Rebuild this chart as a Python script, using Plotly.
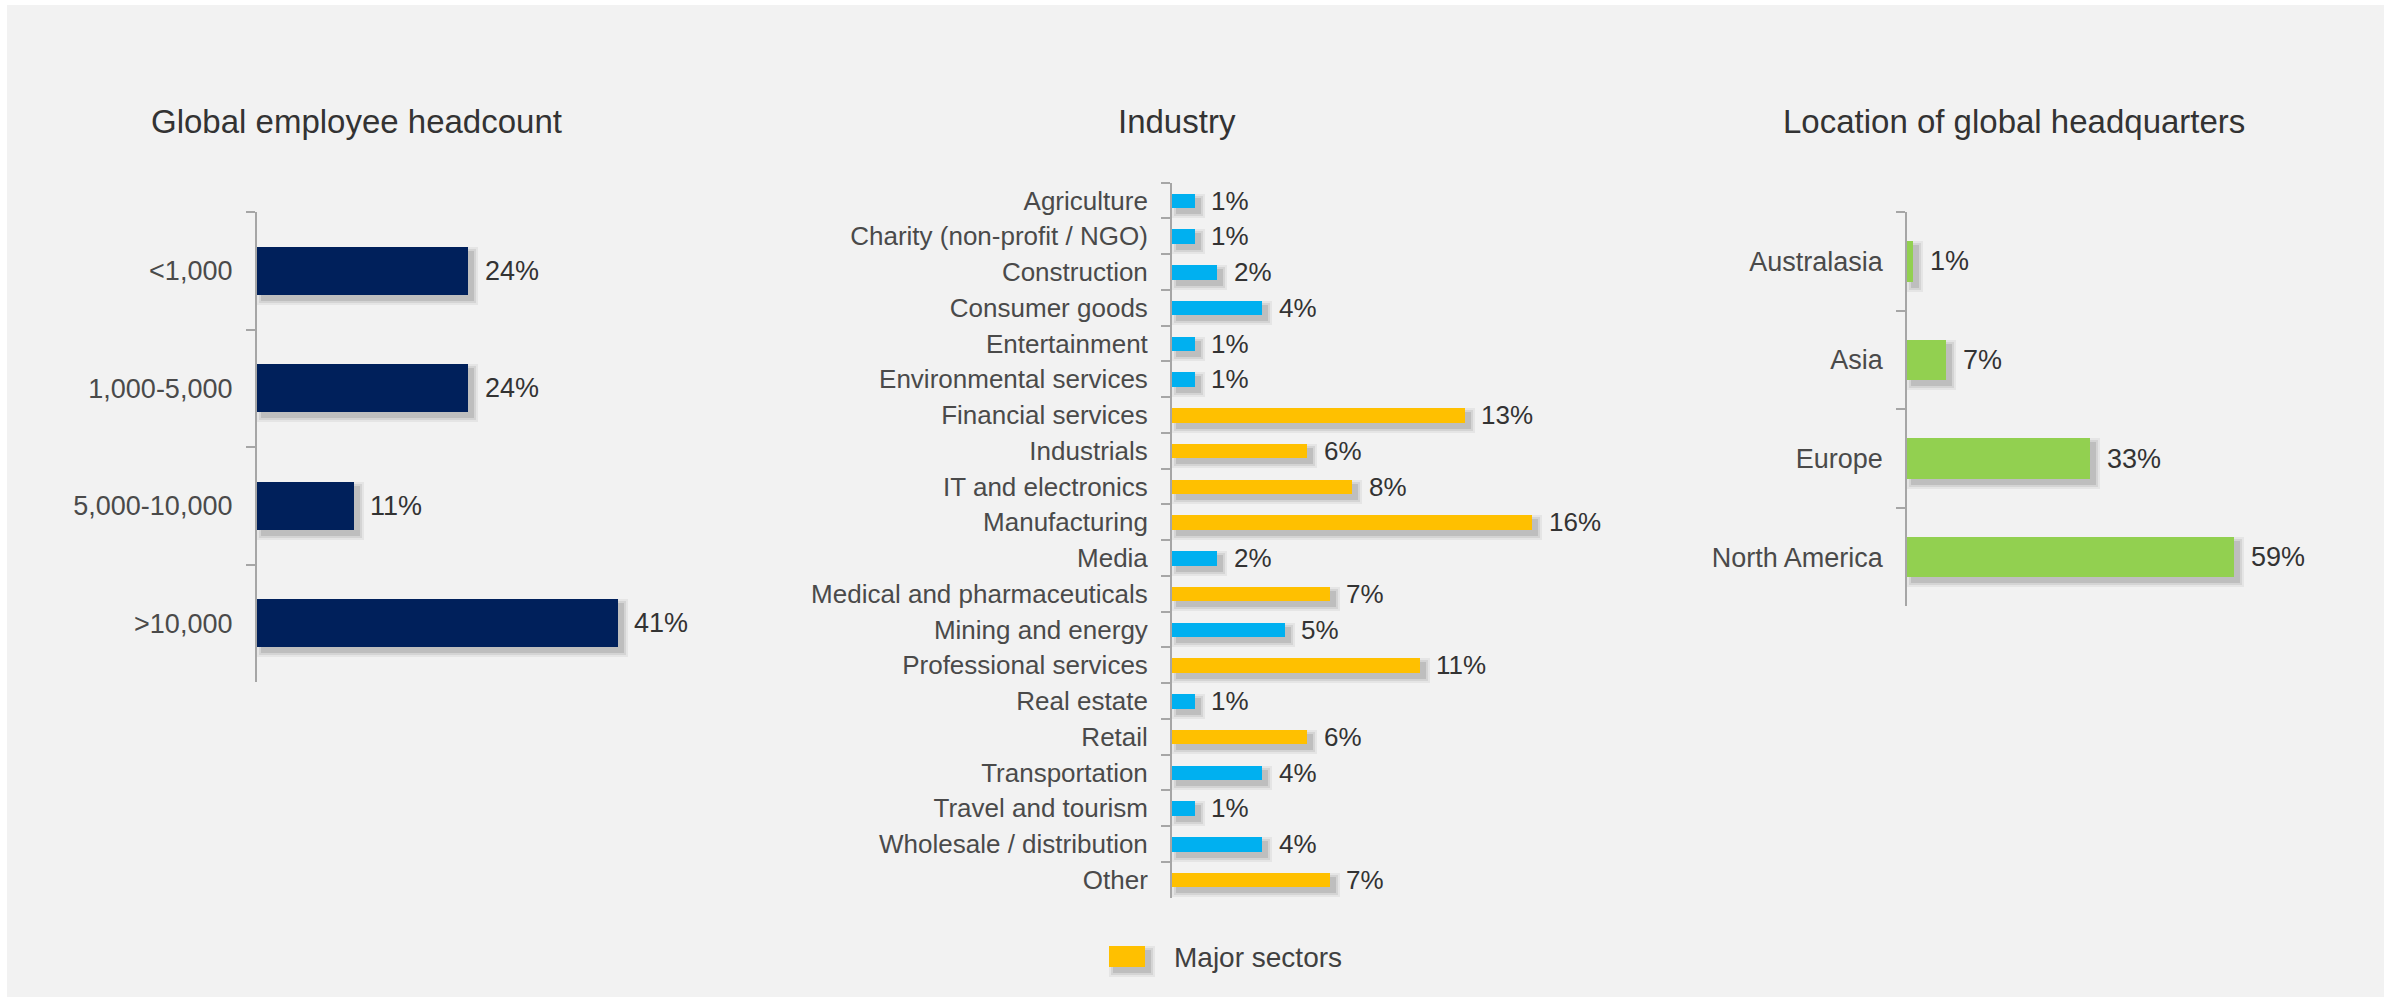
import plotly.graph_objects as go

# ---- data -------------------------------------------------------------
headcount_labels = ["<1,000", "1,000-5,000", "5,000-10,000", ">10,000"]
headcount_values = [24, 24, 11, 41]

industry_labels = [
    "Agriculture", "Charity (non-profit / NGO)", "Construction", "Consumer goods",
    "Entertainment", "Environmental services", "Financial services", "Industrials",
    "IT and electronics", "Manufacturing", "Media", "Medical and pharmaceuticals",
    "Mining and energy", "Professional services", "Real estate", "Retail",
    "Transportation", "Travel and tourism", "Wholesale / distribution", "Other",
]
industry_values = [1, 1, 2, 4, 1, 1, 13, 6, 8, 16, 2, 7, 5, 11, 1, 6, 4, 1, 4, 7]
industry_major = [False, False, False, False, False, False, True, True, True, True,
                  False, True, False, True, False, True, False, False, False, True]

hq_labels = ["Australasia", "Asia", "Europe", "North America"]
hq_values = [1, 7, 33, 59]

# ---- styling ------------------------------------------------------------
W, H = 2395, 999
NAVY = "#00205b"
BLUE = "#00b0f0"
GOLD = "#ffc000"
GREEN = "#92d050"
BG = "#f2f2f2"
AXIS = "#a6a6a6"
FONT = "Liberation Sans, Arial, Helvetica, sans-serif"
TITLE_C = "#333333"
LABEL_C = "#4a4a4a"
VALUE_C = "#333333"


def px_x(p):
    return p / W


def px_y(p):
    return 1 - p / H


fig = go.Figure()

# panel geometry: axis-line x, px per %, x range max, top/bottom of category band
panels = [
    dict(name="1", left=256.6, ppu=8.8, xmax=50, top=212.0, bottom=682.0,
         cats=headcount_labels, vals=headcount_values,
         colors=[NAVY] * len(headcount_values), tick_size=27, val_size=27),
    dict(name="2", left=1171.8, ppu=22.5, xmax=20, top=182.7, bottom=897.7,
         cats=industry_labels, vals=industry_values,
         colors=[GOLD if m else BLUE for m in industry_major], tick_size=26, val_size=26),
    dict(name="3", left=1907.0, ppu=5.55, xmax=70, top=212.0, bottom=606.4,
         cats=hq_labels, vals=hq_values,
         colors=[GREEN] * len(hq_values), tick_size=27, val_size=27),
]

BAR_W = 0.41
annotations = []

for i, p in enumerate(panels):
    xa = "x" if i == 0 else f"x{i + 1}"
    ya = "y" if i == 0 else f"y{i + 1}"
    n = len(p["cats"])
    band = (p["bottom"] - p["top"]) / n

    # soft drop shadow underneath the bars
    for e, op in [(5, 0.05), (3, 0.07), (1, 0.10)]:
        sx, sy = 5, 5
        base = max(0.2, (sx - e)) / p["ppu"]
        xs = [v + (sx + e) / p["ppu"] - base for v in p["vals"]]
        ws = BAR_W + 2 * e / band
        fig.add_trace(go.Bar(
            y=p["cats"], x=xs, base=base, orientation="h",
            width=ws, offset=-ws / 2 + sy / band,
            marker=dict(color=f"rgba(0,0,0,{op})", line=dict(width=0)),
            xaxis=xa, yaxis=ya, hoverinfo="skip", showlegend=False,
        ))

    fig.add_trace(go.Bar(
        y=p["cats"], x=p["vals"], orientation="h", width=BAR_W,
        marker=dict(color=p["colors"], line=dict(width=0)),
        xaxis=xa, yaxis=ya, showlegend=False,
    ))

    for c, v in zip(p["cats"], p["vals"]):
        annotations.append(dict(
            x=v, y=c, xref=xa, yref=ya, text=f"{v}%", showarrow=False,
            xanchor="left", yanchor="middle", xshift=15,
            font=dict(family=FONT, size=p["val_size"], color=VALUE_C),
        ))

    x_dom = [px_x(p["left"]), px_x(p["left"] + p["ppu"] * p["xmax"])]
    y_dom = [px_y(p["bottom"]), px_y(p["top"])]
    xkey = "xaxis" if i == 0 else f"xaxis{i + 1}"
    ykey = "yaxis" if i == 0 else f"yaxis{i + 1}"
    fig.update_layout(**{
        xkey: dict(domain=x_dom, range=[0, p["xmax"]], visible=False,
                   anchor=ya, fixedrange=True),
        ykey: dict(domain=y_dom, anchor=xa, type="category",
                   categoryorder="array", categoryarray=p["cats"],
                   range=[n - 0.5, -0.5], showline=True, linecolor=AXIS,
                   linewidth=1.5, ticks="outside", tickson="boundaries",
                   ticklen=9, tickwidth=1.5, tickcolor=AXIS,
                   showgrid=False, zeroline=False, ticklabelstandoff=17,
                   tickfont=dict(family=FONT, size=p["tick_size"], color=LABEL_C),
                   fixedrange=True),
    })

# panel titles
for text, cx in [("Global employee headcount", 356.6), ("Industry", 1177.0),
                 ("Location of global headquarters", 2013.5)]:
    annotations.append(dict(
        x=px_x(cx), y=px_y(121), xref="paper", yref="paper", text=text,
        showarrow=False, xanchor="center", yanchor="middle",
        font=dict(family=FONT, size=33, color=TITLE_C),
    ))

# legend for the highlighted sectors
annotations.append(dict(
    x=px_x(1172), y=px_y(957), xref="paper", yref="paper", text="Major sectors",
    showarrow=False, xanchor="left", yanchor="middle",
    font=dict(family=FONT, size=28, color="#404040"),
))

shapes = [
    dict(type="rect", xref="paper", yref="paper", layer="below",
         x0=px_x(7), x1=px_x(2384), y0=px_y(997), y1=px_y(5),
         fillcolor=BG, line=dict(width=0)),
]
for e, op in [(5, 0.05), (3, 0.07), (1, 0.10)]:
    shapes.append(dict(type="rect", xref="paper", yref="paper",
                       x0=px_x(1109 + 5 - e), x1=px_x(1145 + 5 + e),
                       y0=px_y(967 + 5 + e), y1=px_y(946 + 5 - e),
                       fillcolor=f"rgba(0,0,0,{op})", line=dict(width=0)))
shapes.append(dict(type="rect", xref="paper", yref="paper",
                   x0=px_x(1109), x1=px_x(1145), y0=px_y(967), y1=px_y(946),
                   fillcolor=GOLD, line=dict(width=0)))

fig.update_layout(
    width=W, height=H, autosize=False,
    margin=dict(l=0, r=0, t=0, b=0),
    paper_bgcolor="white", plot_bgcolor="rgba(0,0,0,0)",
    barmode="overlay", bargap=0,
    annotations=annotations, shapes=shapes,
    font=dict(family=FONT),
)

fig.write_html("out.html", config={"displayModeBar": False})
